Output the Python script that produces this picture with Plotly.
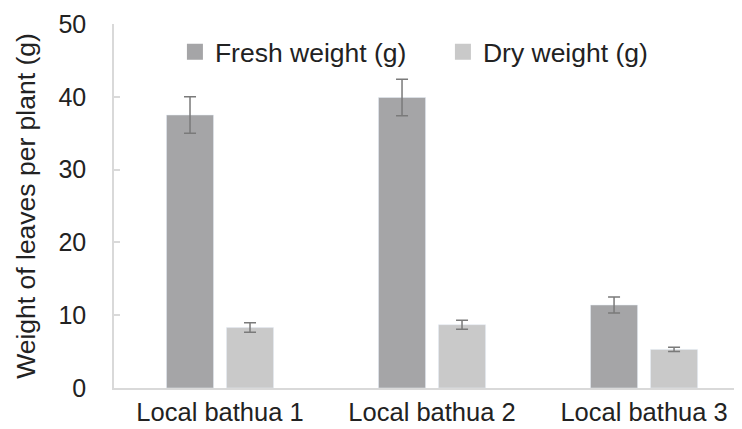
import plotly.graph_objects as go

categories = ["Local bathua 1", "Local bathua 2", "Local bathua 3"]
fresh = [37.5, 39.9, 11.4]
fresh_err = [2.5, 2.5, 1.1]
dry = [8.3, 8.7, 5.3]
dry_err = [0.65, 0.62, 0.3]
y_ticks = [0, 10, 20, 30, 40, 50]

FRESH_C = "#a5a5a7"
DRY_C = "#c9c9c9"
ERR_C = "#7a7a7a"
FAM = "Liberation Sans, Arial, sans-serif"
FONT = dict(family=FAM, size=26.5, color="#222222")
XFONT = dict(family=FAM, size=25.5, color="#222222")
TICKFONT = dict(family=FAM, size=25, color="#222222")

fig = go.Figure()
fig.add_trace(go.Bar(x=categories, y=fresh, name="Fresh weight (g)", marker_color=FRESH_C,
                     error_y=dict(type="data", array=fresh_err, color=ERR_C, thickness=1.5, width=6),
                     showlegend=False))
fig.add_trace(go.Bar(x=categories, y=dry, name="Dry weight (g)", marker_color=DRY_C,
                     error_y=dict(type="data", array=dry_err, color=ERR_C, thickness=1.5, width=6),
                     showlegend=False))
# legend entries
fig.add_trace(go.Scatter(x=[None], y=[None], mode="markers", name="Fresh weight (g)",
                         marker=dict(symbol="square", size=16, color=FRESH_C)))
fig.add_trace(go.Scatter(x=[None], y=[None], mode="markers", name="Dry weight (g)",
                         marker=dict(symbol="square", size=16, color=DRY_C)))

fig.update_layout(
    width=734, height=421,
    margin=dict(l=106, r=0, t=16, b=41),
    paper_bgcolor="white", plot_bgcolor="white",
    font=FONT,
    barmode="group", bargap=0.434, bargroupgap=0.216,
    legend=dict(orientation="h", x=0.097, y=0.923, xanchor="left", yanchor="middle",
                font=FONT, bgcolor="rgba(0,0,0,0)", itemclick=False,
                entrywidth=223, entrywidthmode="pixels"),
    xaxis=dict(range=[-0.5, 2.462], showgrid=False, showline=True, linecolor="#d9d9d9",
               linewidth=1.5, ticks="", tickfont=XFONT, ticklabelstandoff=1,
               automargin=False),
    yaxis=dict(range=[0, 50], tickvals=y_ticks, showgrid=False, showline=True,
               linecolor="#d9d9d9", linewidth=1.5, ticks="inside", ticklen=6,
               tickcolor="#d9d9d9", tickwidth=1.5, tickfont=TICKFONT, ticklabelstandoff=21,
               zeroline=False, automargin=False,
               title=dict(text="Weight of leaves per plant (g)", font=FONT, standoff=15)),
)
fig.write_html("out.html")
